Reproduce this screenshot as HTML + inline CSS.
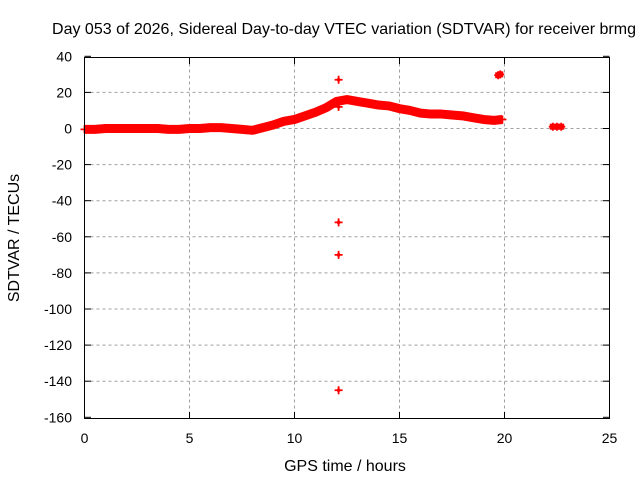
<!DOCTYPE html>
<html><head><meta charset="utf-8"><style>
body{margin:0;background:#fff;}
svg{display:block;font-family:"Liberation Sans",sans-serif;}
</style></head><body>
<svg id="chart" width="640" height="480">
<rect width="640" height="480" fill="#fff"/>
<text x="344" y="34" font-size="16" text-anchor="middle">Day 053 of 2026, Sidereal Day-to-day VTEC variation (SDTVAR) for receiver brmg</text>
<g id="grid"></g>
<g id="series"></g>
<rect x="84.5" y="57.5" width="525" height="361" fill="none" stroke="#000"/>
<text x="345" y="471" font-size="16" text-anchor="middle">GPS time / hours</text>
<text transform="translate(19,238) rotate(-90)" font-size="16" text-anchor="middle">SDTVAR / TECUs</text>
</svg>
<script>
const xTicks=[0,5,10,15,20,25];
const yTicks=[40,20,0,-20,-40,-60,-80,-100,-120,-140,-160];
const mainTimes=[0,0.5,1,1.5,2,2.5,3,3.5,4,4.5,5,5.5,6,6.5,7,7.5,8,8.5,9,9.5,10,10.5,11,11.5,12,12.5,13,13.5,14,14.5,15,15.5,16,16.5,17,17.5,18,18.5,19,19.5,19.9];
const mainVals=[-0.5,-0.5,0,0,0,0,0,0,-0.5,-0.5,0,0,0.5,0.5,0,-0.5,-1,0.5,2,4,5,7,9,11.5,15,16,15,14,13,12.5,11,10,8.5,8,8,7.5,7,6,5,4.5,5];
const extraTimes=[19.7,19.8,22.3,22.5,22.7,12.1,12.1,12.1,12.1,12.1];
const extraVals=[29.5,30,1,1,1,27,-52,-70,-145,12];
const X=t=>84.5+t*21, Y=v=>128.5-v*1.805;
const ns="http://www.w3.org/2000/svg";
const grid=document.getElementById('grid'), ser=document.getElementById('series'), svg=document.getElementById('chart');
function mk(tag,attrs,parent){const e=document.createElementNS(ns,tag);for(const k in attrs)e.setAttribute(k,attrs[k]);parent.appendChild(e);return e;}
xTicks.forEach(t=>{
 if(t>0&&t<25){const l=mk('line',{x1:X(t),x2:X(t),y1:57.5,y2:418.5,stroke:'#a0a0a0','stroke-dasharray':'3,3'},grid);
 
 }
 mk('line',{x1:X(t),x2:X(t),y1:418.5,y2:412,stroke:'#000'},grid);
 mk('line',{x1:X(t),x2:X(t),y1:57.5,y2:64,stroke:'#000'},grid);
 const tx=mk('text',{x:X(t),y:443,'font-size':14,'text-anchor':'middle'},svg);tx.textContent=t;
 
 
});
yTicks.forEach(v=>{
 if(v<40&&v>-160){const l=mk('line',{x1:84.5,x2:609.5,y1:Y(v),y2:Y(v),stroke:'#a0a0a0','stroke-dasharray':'3,3'},grid);
 
 }
 mk('line',{x1:84.5,x2:91,y1:Y(v),y2:Y(v),stroke:'#000'},grid);
 mk('line',{x1:609.5,x2:603,y1:Y(v),y2:Y(v),stroke:'#000'},grid);
 const tx=mk('text',{x:72,y:Y(v)+5,'font-size':14,'text-anchor':'end'},svg);tx.textContent=v;
 
 
});
const pts=mainTimes.map((t,i)=>X(t)+','+Y(mainVals[i])).join(' ');
const band=mk('polyline',{points:pts,fill:'none',stroke:'#ff0000','stroke-width':9,'stroke-linejoin':'round'},ser);


function plus(t,v,name){
 const g=mk('path',{d:`M${X(t)-4},${Y(v)}h8M${X(t)},${Y(v)-4}v8`,stroke:'#ff0000','stroke-width':1.8},ser);
 
 
}
mainTimes.forEach((t,i)=>plus(t,mainVals[i],'data-point'));
extraTimes.forEach((t,i)=>{
 plus(t,extraVals[i],'outlier-point');
 const s=i<5?6:3;
 const r=mk('rect',{x:X(t)-s/2,y:Y(extraVals[i])-s/2,width:s,height:s,fill:'#ff0000'},ser);
 
 
});
</script>
</body></html>
